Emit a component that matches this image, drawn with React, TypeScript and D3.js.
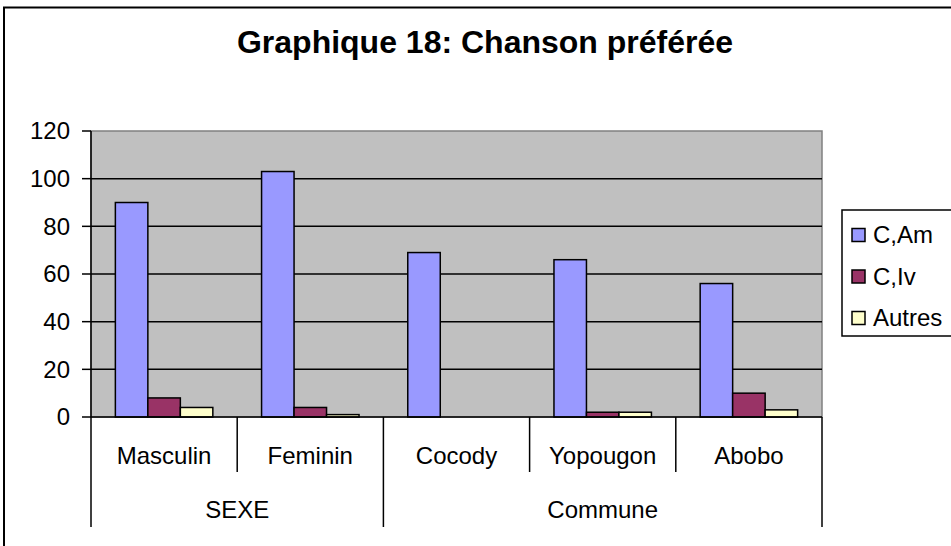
import * as d3 from "d3";

const categories = ["Masculin", "Feminin", "Cocody", "Yopougon", "Abobo"];
const groups = [
    { name: "SEXE", from: 0, to: 2 },
    { name: "Commune", from: 2, to: 5 },
];
const seriesNames = ["C,Am", "C,Iv", "Autres"];
const seriesColors = ["#9999FF", "#993366", "#FFFFCC"];
const valuesCAm = [90, 103, 69, 66, 56];
const valuesCIv = [8, 4, 0, 2, 10];
const valuesAutres = [4, 1, 0, 2, 3];
const yTicks = [0, 20, 40, 60, 80, 100, 120];

const seriesValues = [valuesCAm, valuesCIv, valuesAutres];
const font = "'Liberation Sans', Arial, sans-serif";

function App() {
    const plot = { left: 91, right: 822, top: 131, bottom: 417 };

    const x = d3.scaleBand<number>()
        .domain(d3.range(categories.length))
        .range([plot.left, plot.right])
        .paddingInner(0)
        .paddingOuter(0);

    // Excel-like gap width of 150% around each cluster
    const xs = d3.scaleBand<number>()
        .domain(d3.range(seriesNames.length))
        .range([0, x.bandwidth()])
        .paddingInner(0)
        .paddingOuter(0.75);

    const y = d3.scaleLinear().domain([0, 120]).range([plot.bottom, plot.top]);

    const catLineEnd = 472;
    const groupLineEnd = 527;

    const groupEdges = new Set<number>();
    groups.forEach(g => { groupEdges.add(g.from); groupEdges.add(g.to); });

    return (
        <svg width={951} height={546} style={{ position: "absolute", left: 0, top: 0, background: "white" }}>
            {/* chart frame */}
            <rect x={4} y={7.5} width={1000} height={600} fill="white" stroke="black" strokeWidth={2} />

            <text x={485} y={53} textAnchor="middle" fontFamily={font} fontWeight="bold" fontSize={32} fill="black">
                Graphique 18: Chanson préférée
            </text>

            {/* plot area */}
            <rect x={plot.left} y={plot.top} width={plot.right - plot.left} height={plot.bottom - plot.top}
                fill="#C0C0C0" stroke="#808080" strokeWidth={1.5} />

            {yTicks.map(t => (
                <g key={t}>
                    {t > 0 && t < 120 && (
                        <line x1={plot.left} x2={plot.right} y1={y(t)} y2={y(t)} stroke="black" strokeWidth={1.5} />
                    )}
                    <line x1={plot.left - 9} x2={plot.left} y1={y(t)} y2={y(t)} stroke="black" strokeWidth={1.5} />
                    <text x={70} y={y(t)} dy="0.35em" textAnchor="end" fontFamily={font} fontSize={24} fill="black">{t}</text>
                </g>
            ))}

            {/* bars */}
            {categories.map((c, i) => (
                <g key={c} transform={`translate(${x(i)},0)`}>
                    {seriesValues.map((vals, s) => (
                        vals[i] > 0 ? (
                            <rect key={s}
                                x={xs(s)}
                                y={y(vals[i])}
                                width={xs.bandwidth()}
                                height={y(0) - y(vals[i])}
                                fill={seriesColors[s]}
                                stroke="black"
                                strokeWidth={1.5} />
                        ) : null
                    ))}
                </g>
            ))}

            {/* axes */}
            <line x1={plot.left} x2={plot.left} y1={plot.top} y2={plot.bottom} stroke="black" strokeWidth={1.5} />
            <line x1={plot.left} x2={plot.right} y1={plot.bottom} y2={plot.bottom} stroke="black" strokeWidth={1.5} />

            {d3.range(categories.length + 1).map(i => {
                const xp = i < categories.length ? x(i)! : plot.right;
                return (
                    <line key={i} x1={xp} x2={xp} y1={plot.bottom} y2={groupEdges.has(i) ? groupLineEnd : catLineEnd}
                        stroke="black" strokeWidth={1.5} />
                );
            })}

            {categories.map((c, i) => (
                <text key={c} x={x(i)! + x.bandwidth() / 2} y={464} textAnchor="middle" fontFamily={font} fontSize={24} fill="black">{c}</text>
            ))}

            {groups.map(g => {
                const x0 = x(g.from)!;
                const x1 = g.to < categories.length ? x(g.to)! : plot.right;
                return (
                    <text key={g.name} x={(x0 + x1) / 2} y={518} textAnchor="middle" fontFamily={font} fontSize={24} fill="black">{g.name}</text>
                );
            })}

            {/* legend */}
            <rect x={842} y={210} width={120} height={126} fill="white" stroke="black" strokeWidth={1.5} />
            {seriesNames.map((n, s) => (
                <g key={n} transform={`translate(0,${235 + s * 41.5})`}>
                    <rect x={852} y={-6.5} width={13} height={13} fill={seriesColors[s]} stroke="black" strokeWidth={1.5} />
                    <text x={873} y={0} dy="0.35em" fontFamily={font} fontSize={24} fill="black">{n}</text>
                </g>
            ))}
        </svg>
    );
}

export default App;
